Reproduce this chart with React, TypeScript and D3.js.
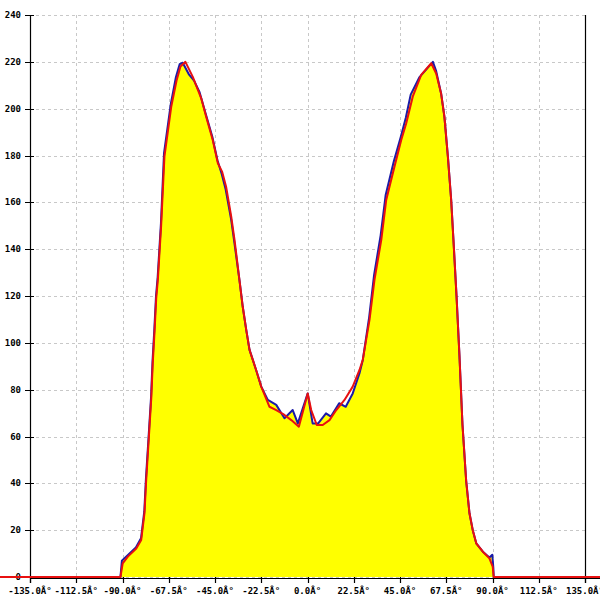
import React from "react";
import * as d3 from "d3";

const xTicks = [-135, -112.5, -90, -67.5, -45, -22.5, 0, 22.5, 45, 67.5, 90, 112.5, 135];
const yTicks = [0, 20, 40, 60, 80, 100, 120, 140, 160, 180, 200, 220, 240];

const redDeg = [-150, -91, -89.9, -87.4, -83.3, -80.9, -79.3, -78.5, -77.2, -76.0, -75.3, -74.4, -73.6, -72.8, -71.2, -69.6, -66.3, -63.7, -61.8, -59.4, -55.8, -51.7, -49.3, -46.1, -43.6, -41.5, -39.6, -37.1, -35.5, -33.1, -31.5, -29.8, -28.2, -26.6, -25.0, -22.5, -18.5, -15.2, -11.2, -7.9, -4.2, 0.1, 1.8, 4.5, 7.4, 10.7, 14.0, 18.0, 22.0, 25.3, 26.9, 30.2, 32.6, 35.9, 38.3, 42.3, 45.6, 48.0, 51.2, 55.3, 60.2, 62.6, 65.0, 66.6, 68.3, 69.9, 71.0, 72.5, 73.9, 75.4, 77.2, 78.8, 80.4, 82.1, 85.3, 88.5, 90.1, 90.6, 150];
const redVal = [0, 0, 5.8, 8.7, 12.2, 15.8, 27.3, 41, 59.4, 76.4, 91, 105, 119, 127, 150, 179.5, 200.8, 212, 218, 220, 213.6, 204.4, 196.6, 186.6, 176.7, 173, 166.7, 153.9, 144, 126.8, 115.4, 105.5, 97, 92.7, 88.4, 81.3, 72.7, 71.3, 69.2, 67, 64.2, 78.4, 71.3, 64.9, 64.9, 67, 71.3, 75.6, 81.3, 88.4, 92.7, 110, 127, 144, 161, 175.2, 186.6, 193.7, 205.1, 214.4, 219.4, 215, 206.5, 196.6, 179.5, 161, 144, 120, 95, 65, 41, 27.2, 20, 14.4, 10.8, 8, 4.4, 0, 0];

const blueDeg = [-91, -90.3, -87.6, -83.5, -81.0, -79.4, -78.6, -77.3, -76.1, -75.4, -74.5, -73.7, -72.9, -71.3, -69.8, -66.5, -64.0, -62.2, -60.7, -57.6, -55.2, -52.5, -49.6, -46.3, -43.8, -41.7, -39.8, -37.2, -35.6, -33.1, -31.5, -29.8, -28.2, -26.6, -25.0, -22.5, -19.3, -15.2, -11.2, -7.2, -4.7, 0.1, 2.5, 5.2, 9.0, 11.4, 15.4, 18.6, 22.0, 25.3, 26.9, 30.0, 32.4, 35.6, 38.0, 42.0, 45.4, 47.8, 50.2, 54.5, 59.5, 61.0, 62.6, 65.0, 66.6, 68.3, 69.9, 71.0, 72.5, 73.9, 75.4, 77.2, 78.8, 80.4, 82.1, 85.3, 88.5, 89.9, 90.4, 90.6];
const blueVal = [0, 7, 9.2, 12.6, 16.5, 28, 42, 60, 77, 92, 106, 120, 128, 151, 181, 202, 213.5, 219, 219.6, 214.5, 212, 207, 198, 188, 178, 172, 165.5, 153, 143, 126.8, 115.4, 105.5, 97, 92.7, 88.4, 81.3, 75.6, 73.5, 67.8, 71.3, 65.6, 78.4, 65.6, 65.6, 69.9, 68.5, 74.2, 72.7, 78.4, 87, 92.7, 111, 129, 146, 163, 177.5, 188, 196, 206, 213.5, 218.5, 220, 216, 206.5, 196.6, 179.5, 161, 144, 120, 95, 65, 41, 27.2, 20, 14.4, 10.8, 8.3, 9.5, 4, 0];

const W = 600;
const H = 600;

export default function App() {
  const x = d3.scaleLinear().domain([-135, 135]).range([30, 585]);
  const y = d3.scaleLinear().domain([0, 240]).range([577, 15]);

  const red = redDeg.map((d, i) => [d, redVal[i]] as [number, number]);
  const blue = blueDeg.map((d, i) => [d, blueVal[i]] as [number, number]);

  const line = d3
    .line<[number, number]>()
    .x((d) => x(d[0]))
    .y((d) => y(d[1]));
  const area = d3
    .area<[number, number]>()
    .x((d) => x(d[0]))
    .y0(y(0))
    .y1((d) => y(d[1]));

  const font = { fontFamily: "'DejaVu Sans Mono', monospace", fontSize: 9, fontWeight: 700 as const };
  const px = (v: number) => Math.round(v) + 0.5;

  return (
    <svg
      width={W}
      height={H}
      style={{ position: "absolute", left: 0, top: 0, background: "#fff" }}
    >
      {/* grid */}
      {yTicks.map((t) => (
        <line
          key={"gy" + t}
          x1={x(-135)}
          x2={x(135)}
          y1={px(y(t))}
          y2={px(y(t))}
          stroke="#c8c8c8"
          strokeDasharray="3,3"
          strokeWidth={1}
        />
      ))}
      {xTicks.map((t) => (
        <line
          key={"gx" + t}
          x1={px(x(t))}
          x2={px(x(t))}
          y1={y(240)}
          y2={y(0)}
          stroke="#c8c8c8"
          strokeDasharray="3,3"
          strokeWidth={1}
        />
      ))}
      {/* fill */}
      <path d={area(blue) || ""} fill="#ffff00" stroke="none" />
      {/* axes */}
      <line x1={px(x(-135))} x2={px(x(-135))} y1={y(240)} y2={y(0) + 6} stroke="#000" strokeWidth={1.2} />
      <line x1={px(x(135))} x2={px(x(135))} y1={y(240)} y2={y(0) + 6} stroke="#000" strokeWidth={1.2} />
      <line x1={x(-135)} x2={W} y1={px(y(0)) + 1} y2={px(y(0)) + 1} stroke="#000" strokeWidth={1.2} />
      {yTicks.map((t) => (
        <g key={"yt" + t}>
          <line x1={x(-135) - 5} x2={x(-135) + 4} y1={px(y(t))} y2={px(y(t))} stroke="#000" strokeWidth={1} />
          <text x={x(-135) - 9} y={y(t) + 3} textAnchor="end" style={font} fill="#000">
            {t}
          </text>
        </g>
      ))}
      {xTicks.map((t) => (
        <g key={"xt" + t}>
          <line x1={px(x(t))} x2={px(x(t))} y1={y(0)} y2={y(0) + 6} stroke="#000" strokeWidth={1.2} />
          <text x={x(t)} y={y(0) + 17} textAnchor="middle" style={font} fill="#000">
            {t.toFixed(1) + "Â°"}
          </text>
        </g>
      ))}
      {/* lines */}
      <path d={line(blue) || ""} fill="none" stroke="#1a1aa8" strokeWidth={2} strokeLinejoin="round" />
      <path d={line(red) || ""} fill="none" stroke="#e81010" strokeWidth={2} strokeLinejoin="round" />
    </svg>
  );
}
